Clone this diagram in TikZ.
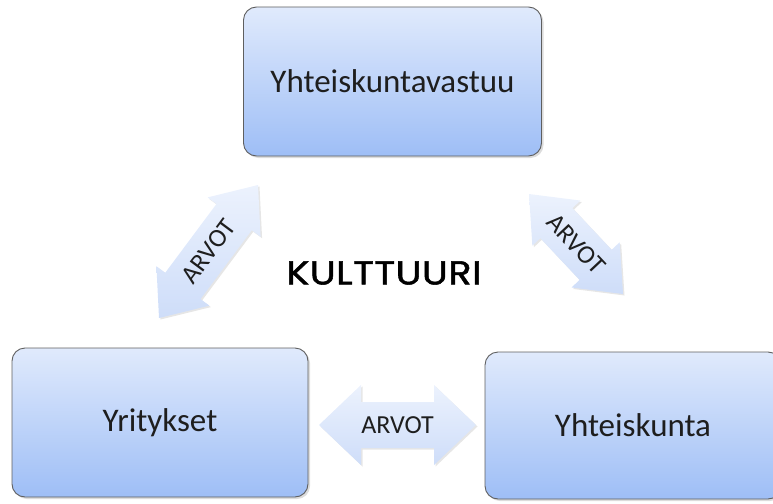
\documentclass[tikz,border=0pt]{standalone}
\usepackage{fontspec}
\setmainfont{Carlito}
\newfontfamily\headfont[FakeStretch=1.16, LetterSpace=1.5, FakeBold=1.6]{Poppins}
\usetikzlibrary{shadows,calc}

\definecolor{boxtop}{RGB}{224,234,252}
\definecolor{boxbottom}{RGB}{158,190,246}
\definecolor{boxline}{RGB}{95,95,95}
\definecolor{arrowlight}{RGB}{236,242,253}
\definecolor{arrowdark}{RGB}{206,221,249}
\definecolor{inktext}{RGB}{30,30,30}

\newcommand\headlen{40pt}
\newcommand\headhalf{33pt}
\newcommand\shafthalf{22pt}

% double-headed arrow body between two tips #1 and #2
\newcommand\twoway[2]{%
  \coordinate (#1-h) at ($(#1)!\headlen!(#2)$);
  \coordinate (#2-h) at ($(#2)!\headlen!(#1)$);
  \path[arrowbody] (#1)
    -- ($(#1-h)!\headhalf!90:(#2)$) -- ($(#1-h)!\shafthalf!90:(#2)$)
    -- ($(#2-h)!\shafthalf!-90:(#1)$) -- ($(#2-h)!\headhalf!-90:(#1)$)
    -- (#2)
    -- ($(#2-h)!\headhalf!90:(#1)$) -- ($(#2-h)!\shafthalf!90:(#1)$)
    -- ($(#1-h)!\shafthalf!-90:(#2)$) -- ($(#1-h)!\headhalf!-90:(#2)$)
    -- cycle;
}

\tikzset{
  block/.style={draw=boxline, line width=0.9pt, rounded corners=13pt,
    top color=boxtop, bottom color=boxbottom, inner sep=0pt,
    text=inktext, font=\fontsize{33}{36}\selectfont,
    drop shadow={shadow xshift=2pt, shadow yshift=-2pt, opacity=0.28}},
  arrowbody/.style={top color=arrowlight, bottom color=arrowdark,
    drop shadow={shadow xshift=1.5pt, shadow yshift=-1.5pt, opacity=0.2}},
  arrowtext/.style={text=inktext, inner sep=0pt},
}

\begin{document}
\begin{tikzpicture}[x=1pt, y=-1pt]
  \useasboundingbox (0,0) rectangle (773,503);
  \clip (0,0) rectangle (773,503);

  % the three blocks
  \node[block, minimum width=298pt, minimum height=149pt] (duty) at (392.5,81.5) {Yhteiskuntavastuu};
  \node[block, minimum width=296pt, minimum height=149pt] (firms) at (160,422.5) {Yritykset};
  \node[block, minimum width=296pt, minimum height=147pt] (society) at (633,425.5) {Yhteiskunta};

  % centre label
  \node[text=black, inner sep=0pt, font=\headfont\fontsize{33}{36}\selectfont] (culture) at (384,273) {KULTTUURI};

  % tips of the double arrows
  \coordinate (la) at (159,318);
  \coordinate (lb) at (258,185);
  \coordinate (ra) at (529,194);
  \coordinate (rb) at (623,294);
  \coordinate (ha) at (319,425);
  \coordinate (hb) at (476,425);

  \twoway{la}{lb}
  \twoway{ra}{rb}
  \begingroup
  \renewcommand\headlen{42pt}\renewcommand\headhalf{40pt}\renewcommand\shafthalf{23pt}
  \twoway{ha}{hb}
  \endgroup

  \path (la) -- node[arrowtext, sloped, font=\fontsize{26}{28}\selectfont] (lvalues) {ARVOT} (lb);
  \path (ra) -- node[arrowtext, sloped, font=\fontsize{26}{28}\selectfont] (rvalues) {ARVOT} (rb);
  \path (ha) -- node[arrowtext, font=\fontsize{26}{28}\selectfont] (hvalues) {ARVOT} (hb);
\end{tikzpicture}
\end{document}
